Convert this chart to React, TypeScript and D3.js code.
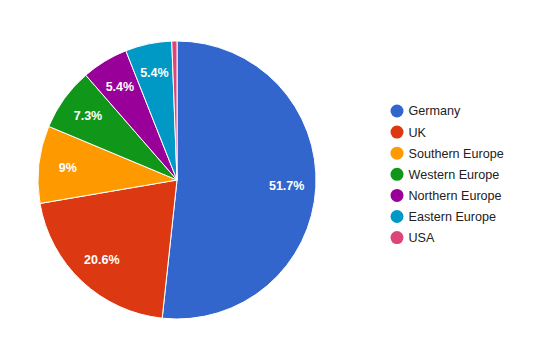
import * as d3 from "d3";
import React, { useRef, useEffect } from "react";

const categories = ["Germany", "UK", "Southern Europe", "Western Europe", "Northern Europe", "Eastern Europe", "USA"];
const values = [51.7, 20.6, 9, 7.3, 5.4, 5.4, 0.6];
const labels = ["51.7%", "20.6%", "9%", "7.3%", "5.4%", "5.4%", ""];
const colors = ["#3366cc", "#dc3912", "#ff9900", "#109618", "#990099", "#0099c6", "#dd4477"];

const App: React.FC = () => {
  const svgRef = useRef<SVGSVGElement | null>(null);

  useEffect(() => {
    const width = 558;
    const height = 353;
    const cx = 177;
    const cy = 180;
    const r = 139;

    const svg = d3.select(svgRef.current).attr("width", width).attr("height", height);
    svg.selectAll("*").remove();

    svg.append("rect").attr("width", width).attr("height", height).attr("fill", "#ffffff");

    const data = categories.map((c, i) => ({ label: c, value: values[i], text: labels[i], color: colors[i] }));

    const pie = d3.pie<any>().value((d) => d.value).sort(null);
    const arc = d3.arc<any>().innerRadius(0).outerRadius(r);
    const labelArc = d3.arc<any>().innerRadius(r * 0.79).outerRadius(r * 0.79);

    const g = svg.append("g").attr("transform", `translate(${cx},${cy})`);
    const arcs = pie(data);

    g.selectAll("path")
      .data(arcs)
      .enter()
      .append("path")
      .attr("d", arc)
      .attr("fill", (d) => d.data.color)
      .attr("stroke", "#ffffff")
      .attr("stroke-width", 1);

    g.selectAll("text")
      .data(arcs)
      .enter()
      .append("text")
      .attr("transform", (d) => `translate(${labelArc.centroid(d)})`)
      .attr("text-anchor", "middle")
      .attr("dy", "0.35em")
      .attr("fill", "#ffffff")
      .style("font-family", "Arial, 'Liberation Sans', sans-serif")
      .style("font-size", "12.5px")
      .style("font-weight", "bold")
      .text((d) => d.data.text);

    // legend
    const legend = svg.append("g").attr("transform", "translate(397,111)");
    const rows = legend
      .selectAll("g")
      .data(data)
      .enter()
      .append("g")
      .attr("transform", (d, i) => `translate(0,${i * 21.1})`);
    rows.append("circle").attr("r", 6.5).attr("fill", (d) => d.color);
    rows
      .append("text")
      .attr("x", 11.5)
      .attr("dy", "0.35em")
      .attr("fill", "#222222")
      .style("font-family", "Arial, 'Liberation Sans', sans-serif")
      .style("font-size", "12.6px")
      .text((d) => d.label);
  }, []);

  return (
    <div style={{ margin: -8 }}>
      <svg ref={svgRef} style={{ display: "block" }}></svg>
    </div>
  );
};

export default App;
